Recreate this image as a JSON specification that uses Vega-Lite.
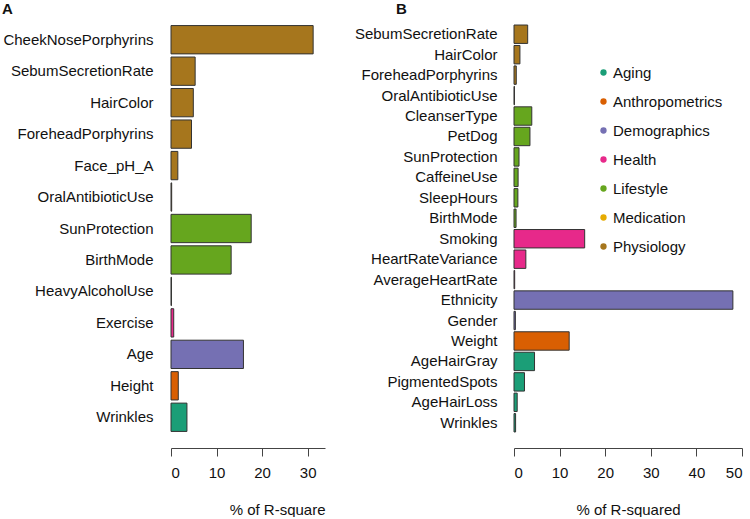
{
  "$schema": "https://vega.github.io/schema/vega-lite/v6.json",
  "padding": {"left": 2, "top": 2, "right": 5, "bottom": 0},
  "background": "white",
  "config": {
    "view": {"stroke": null},
    "font": "Liberation Sans",
    "axis": {"labelFont": "Liberation Sans", "titleFont": "Liberation Sans", "labelColor": "#111", "titleColor": "#111"},
    "concat": {"spacing": 29}
  },
  "datasets": {
    "panelA": [
      {"variable": "CheekNosePorphyrins", "category": "Physiology", "pct": 31.2},
      {"variable": "SebumSecretionRate", "category": "Physiology", "pct": 5.3},
      {"variable": "HairColor", "category": "Physiology", "pct": 4.9},
      {"variable": "ForeheadPorphyrins", "category": "Physiology", "pct": 4.5},
      {"variable": "Face_pH_A", "category": "Physiology", "pct": 1.5},
      {"variable": "OralAntibioticUse", "category": "Physiology", "pct": 0.15},
      {"variable": "SunProtection", "category": "Lifestyle", "pct": 17.6},
      {"variable": "BirthMode", "category": "Lifestyle", "pct": 13.2},
      {"variable": "HeavyAlcoholUse", "category": "Lifestyle", "pct": 0.1},
      {"variable": "Exercise", "category": "Health", "pct": 0.6},
      {"variable": "Age", "category": "Demographics", "pct": 15.9},
      {"variable": "Height", "category": "Anthropometrics", "pct": 1.6},
      {"variable": "Wrinkles", "category": "Aging", "pct": 3.5}
    ],
    "panelB": [
      {"variable": "SebumSecretionRate", "category": "Physiology", "pct": 3.0},
      {"variable": "HairColor", "category": "Physiology", "pct": 1.3},
      {"variable": "ForeheadPorphyrins", "category": "Physiology", "pct": 0.5},
      {"variable": "OralAntibioticUse", "category": "Physiology", "pct": 0.1},
      {"variable": "CleanserType", "category": "Lifestyle", "pct": 3.9},
      {"variable": "PetDog", "category": "Lifestyle", "pct": 3.5},
      {"variable": "SunProtection", "category": "Lifestyle", "pct": 1.1},
      {"variable": "CaffeineUse", "category": "Lifestyle", "pct": 0.9},
      {"variable": "SleepHours", "category": "Lifestyle", "pct": 0.85},
      {"variable": "BirthMode", "category": "Lifestyle", "pct": 0.45},
      {"variable": "Smoking", "category": "Health", "pct": 15.5},
      {"variable": "HeartRateVariance", "category": "Health", "pct": 2.6},
      {"variable": "AverageHeartRate", "category": "Health", "pct": 0.15},
      {"variable": "Ethnicity", "category": "Demographics", "pct": 48.0},
      {"variable": "Gender", "category": "Demographics", "pct": 0.3},
      {"variable": "Weight", "category": "Anthropometrics", "pct": 12.1},
      {"variable": "AgeHairGray", "category": "Aging", "pct": 4.5},
      {"variable": "PigmentedSpots", "category": "Aging", "pct": 2.3},
      {"variable": "AgeHairLoss", "category": "Aging", "pct": 0.7},
      {"variable": "Wrinkles", "category": "Aging", "pct": 0.35}
    ]
  },
  "resolve": {"scale": {"color": "independent", "x": "independent", "y": "independent"}, "legend": {"color": "independent"}},
  "hconcat": [
    {
      "data": {"name": "panelA"},
      "width": 154,
      "height": 409,
      "title": {"text": "A", "anchor": "start", "frame": "group", "dx": -169, "fontSize": 15, "fontWeight": "bold", "font": "Liberation Sans", "color": "#111", "offset": 7},
      "mark": {"type": "bar", "stroke": "#333", "strokeWidth": 1},
      "encoding": {
        "y": {"field": "variable", "type": "nominal", "sort": null, "scale": {"paddingInner": 0.1, "paddingOuter": 0.05},
          "axis": {"title": null, "ticks": false, "domain": false, "labelFontSize": 15, "labelPadding": 18, "minExtent": 166, "maxExtent": 166}},
        "x": {"field": "pct", "type": "quantitative", "scale": {"domain": [0, 33.8], "nice": false},
          "axis": {"values": [0, 10, 20, 30], "grid": false, "offset": 15, "tickSize": 8, "tickColor": "#444", "domainColor": "#444", "labelFontSize": 15, "labelPadding": 9, "title": "% of R-square", "titleFontSize": 15, "titleFontWeight": "normal", "titleAnchor": "end", "titleAlign": "right", "titlePadding": 22}},
        "color": {"field": "category", "type": "nominal",
          "scale": {"domain": ["Aging", "Anthropometrics", "Demographics", "Health", "Lifestyle", "Medication", "Physiology"], "range": ["#1B9E77", "#D95F02", "#7570B3", "#E7298A", "#66A61E", "#E6AB02", "#A6761D"]},
          "legend": null}
      }
    },
    {
      "data": {"name": "panelB"},
      "width": 228,
      "height": 409,
      "title": {"text": "B", "anchor": "start", "frame": "group", "dx": -118, "fontSize": 15, "fontWeight": "bold", "font": "Liberation Sans", "color": "#111", "offset": 7},
      "mark": {"type": "bar", "stroke": "#333", "strokeWidth": 1},
      "encoding": {
        "y": {"field": "variable", "type": "nominal", "sort": null, "scale": {"paddingInner": 0.1, "paddingOuter": 0.05},
          "axis": {"title": null, "ticks": false, "domain": false, "labelFontSize": 15, "labelPadding": 17, "minExtent": 160, "maxExtent": 160}},
        "x": {"field": "pct", "type": "quantitative", "scale": {"domain": [0, 50], "nice": false},
          "axis": {"values": [0, 10, 20, 30, 40, 50], "grid": false, "offset": 15, "tickSize": 8, "tickColor": "#444", "domainColor": "#444", "labelFontSize": 15, "labelPadding": 9, "title": "% of R-squared", "titleFontSize": 15, "titleFontWeight": "normal", "titlePadding": 22}},
        "color": {"field": "category", "type": "nominal",
          "scale": {"domain": ["Aging", "Anthropometrics", "Demographics", "Health", "Lifestyle", "Medication", "Physiology"], "range": ["#1B9E77", "#D95F02", "#7570B3", "#E7298A", "#66A61E", "#E6AB02", "#A6761D"]},
          "legend": {"orient": "none", "legendX": 82, "legendY": 41, "title": null, "symbolType": "circle", "symbolSize": 40, "symbolStrokeWidth": 0, "labelFontSize": 15, "labelFont": "Liberation Sans", "labelColor": "#111", "labelOffset": 2, "rowPadding": 13}}
      }
    }
  ]
}
